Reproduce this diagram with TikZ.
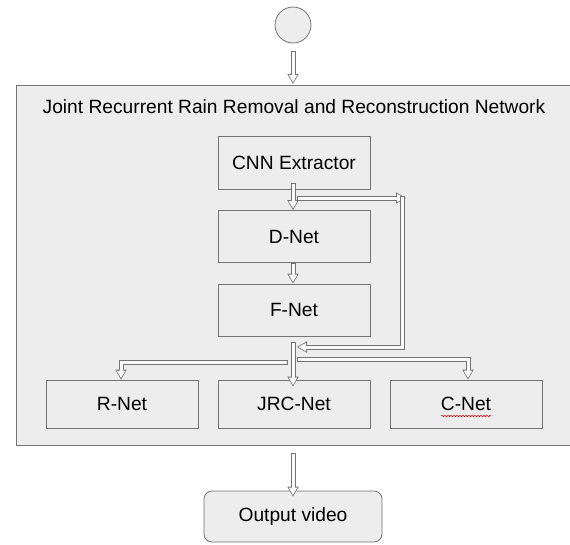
\documentclass[tikz,border=0pt]{standalone}
\usepackage{fontspec}
\setmainfont{Liberation Sans}
\usetikzlibrary{arrows.meta,decorations.pathmorphing}
\colorlet{bgx}{black!7}
\colorlet{edx}{black!55}
\colorlet{pix}{black!2}
\tikzset{
    block/.style={draw=edx,fill=bgx,line width=0.8pt,inner sep=0pt,
        minimum width=152pt,minimum height=52pt,font=\fontsize{19.2}{22}\selectfont},
    pipe/.style={draw=pix,line width=3pt,shorten <=1pt,shorten >=1.5pt,
        -{Triangle[length=7.5pt,width=8.6pt,line width=0pt]},
        preaction={draw=edx,line width=5pt,shorten <=0pt,shorten >=0pt,
            -{Triangle[length=10pt,width=11.5pt,line width=0pt]}}}
}

\begin{document}
\begin{tikzpicture}[x=1pt,y=-1pt]
    \useasboundingbox (0,0) rectangle (570,544);
    % outer network box
    \draw [edx,fill=bgx,line width=0.8pt] (16,85) rectangle (575,445);
    \node [font=\fontsize{19.2}{22}\selectfont] (title) at (294,107)
        {Joint Recurrent Rain Removal and Reconstruction Network};
    \coordinate (top) at (293,85);
    \coordinate (bot) at (293,445);
    % input
    \node [circle,draw=edx,fill=bgx,line width=0.8pt,minimum size=36pt] (start) at (293,25) {};
    % blocks
    \node [block,minimum height=53pt] (cnn) at (294,162.5) {CNN Extractor};
    \node [block] (dnet) at (294,236.5) {D-Net};
    \node [block] (fnet) at (294,310) {F-Net};
    \node [block,minimum height=48pt] (rnet) at (122,404) {R-Net};
    \node [block,minimum height=48pt] (jrc) at (294,404) {JRC-Net};
    \node [block,minimum height=48pt] (cnet) at (466,404) {C-Net};
    \node [block,rounded corners=8pt,minimum width=178pt,minimum height=51pt] (out) at (293,516.5) {Output video};
    \draw [red!80!black,line width=0.5pt,decorate,
        decoration={snake,amplitude=0.8pt,segment length=3pt}] (441,416) -- (491,416);
    % connectors
    \coordinate (split) at (297,198);
    \coordinate (turn) at (402,198);
    \coordinate (merge) at (297,347);
    \draw [pipe] ([yshift=-8pt]start.south -| top) -- ([yshift=1pt]top);
    \draw [pipe] ([yshift=6pt]cnn.south -| top) -- (dnet.north -| top);
    \draw [pipe] (split) -- ([xshift=4pt]turn);
    \draw [pipe] ([yshift=2pt]turn) |- (merge);
    \draw [pipe] (dnet.south -| top) -- (fnet.north -| top);
    \draw [pipe] ([yshift=-6pt]fnet.south -| top) -- ([yshift=-7pt]jrc.north -| top);
    \draw [pipe] ([yshift=-26pt]fnet.south -| 288,0) -| ([xshift=-1pt]rnet.north);
    \draw [pipe] ([yshift=-23pt]fnet.south -| 297,0) -| ([xshift=2pt]cnet.north);
    \draw [pipe] ([yshift=-8pt]bot) -- ([yshift=-6pt]out.north -| bot);
\end{tikzpicture}
\end{document}
